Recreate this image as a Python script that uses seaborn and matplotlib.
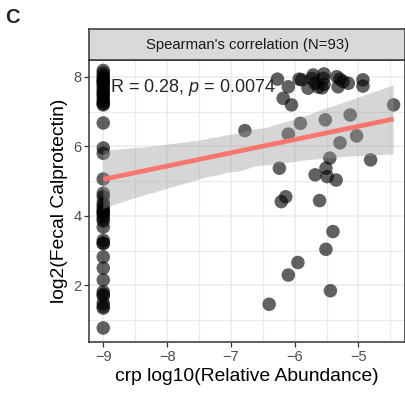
import numpy as np
import pandas as pd
import matplotlib
matplotlib.use("Agg")
import matplotlib.pyplot as plt
import seaborn as sns
from matplotlib.ticker import MultipleLocator

# ---------------- data ----------------
DETECTION_FLOOR = -9.0  # crp log10 abundance assigned to non-detected samples

# samples at the detection floor: log2(fecal calprotectin)
floor_calprotectin = [8.18, 8.10, 8.03, 7.96, 7.90, 7.87, 7.84, 7.78, 7.71, 7.64, 7.57,
                      7.52, 7.48, 7.40, 7.33, 7.26, 7.22, 7.19,
                      6.67, 5.95, 5.80, 5.06, 4.65, 4.55, 4.38, 4.30, 4.22,
                      4.15, 4.10, 4.08, 4.00, 3.92, 3.85, 3.68, 3.30, 3.22,
                      3.20, 2.82, 2.50, 2.16, 1.82, 1.75, 1.70, 1.50, 1.40, 1.35, 0.78]

# samples with detected crp
detected_crp = [-6.27, -6.10, -5.93, -5.89, -5.79, -5.73, -5.68, -5.63, -5.55, -5.54,
                -5.57, -5.34, -5.29, -5.24, -5.32, -5.16, -4.93, -4.93, -5.71, -5.54,
                -6.18, -6.05, -4.45, -5.13, -5.52, -5.91, -6.78, -6.10, -5.03, -5.29,
                -5.45, -4.81, -6.24, -5.51, -5.68, -5.49, -5.35, -6.14, -6.21, -5.61,
                -5.40, -5.51, -5.95, -6.10, -5.44, -6.40]
detected_calprotectin = [7.93, 7.71, 7.93, 7.91, 7.67, 7.95, 7.81, 7.70, 7.95, 7.78,
                         7.68, 8.00, 7.93, 7.86, 7.71, 7.81, 7.91, 7.73, 8.05, 8.08,
                         7.38, 7.19, 7.19, 6.90, 6.76, 6.66, 6.45, 6.35, 6.30, 6.10,
                         5.66, 5.61, 5.37, 5.37, 5.18, 5.13, 5.03, 4.55, 4.41, 4.44,
                         3.55, 3.04, 2.66, 2.30, 1.85, 1.46]

strip_title = "Spearman's correlation (N=93)"
stat_label = r"R = 0.28, $\it{p}$ = 0.0074"
x_title = "crp log10(Relative Abundance)"
y_title = "log2(Fecal Calprotectin)"
x_ticks = [-9, -8, -7, -6, -5]
y_ticks = [2, 4, 6, 8]

df = pd.DataFrame({
    "crp": [DETECTION_FLOOR] * len(floor_calprotectin) + detected_crp,
    "calpro": floor_calprotectin + detected_calprotectin,
})

# ---------------- style ----------------
sns.set_style("white")
plt.rcParams["font.family"] = ["Liberation Sans", "DejaVu Sans"]
plt.rcParams["mathtext.fontset"] = "custom"
plt.rcParams["mathtext.rm"] = "Liberation Sans"
plt.rcParams["mathtext.it"] = "Liberation Sans:italic"

W, H = 406, 396
fig = plt.figure(figsize=(W / 100, H / 100), dpi=100)

px_l, px_r, px_t, px_b = 89.3, 405.0, 60.0, 342.0
ax = fig.add_axes([px_l / W, 1 - px_b / H, (px_r - px_l) / W, (px_b - px_t) / H])

sns.scatterplot(data=df, x="crp", y="calpro", color="black", alpha=0.62, s=95,
                edgecolor="none", linewidth=0, ax=ax, zorder=3)
sns.regplot(data=df, x="crp", y="calpro", scatter=False, color="#F8766D",
            truncate=True, seed=3, n_boot=2000, ci=99,
            line_kws=dict(lw=3.4, zorder=6, solid_capstyle="butt"), ax=ax)
band = ax.collections[-1]
band.set_alpha(0.4)
band.set_facecolor((0.6, 0.6, 0.6))
band.set_edgecolor("none")
band.set_zorder(5)

ax.set_xlim(-9.219, -4.271)
ax.set_ylim(0.376, 8.48)
ax.set_xticks(x_ticks)
ax.set_xticklabels([f"\u2212{abs(v)}" for v in x_ticks])
ax.set_yticks(y_ticks)
ax.xaxis.set_minor_locator(MultipleLocator(0.5))
ax.yaxis.set_minor_locator(MultipleLocator(1))
ax.grid(which="major", color="#EBEBEB", lw=1.1, zorder=0)
ax.grid(which="minor", color="#EBEBEB", lw=0.8, zorder=0)
ax.set_axisbelow(True)
ax.tick_params(which="major", direction="out", length=3.5, width=0.9, color="#333333",
               labelsize=10.5, labelcolor="#4D4D4D", pad=2,
               bottom=True, left=True)
ax.tick_params(which="minor", length=0)
for s in ax.spines.values():
    s.set_color("#333333")
    s.set_linewidth(1.1)

ax.set_xlabel(x_title, fontsize=13.9, color="black", labelpad=3)
ax.set_ylabel(y_title, fontsize=13.9, color="black", labelpad=4)

ax.text(-8.9, 7.7, stat_label, fontsize=13, ha="left", va="center", zorder=7)

# facet strip
st_t = 29.3
sax = fig.add_axes([px_l / W, 1 - px_t / H, (px_r - px_l) / W, (px_t - st_t) / H])
sax.set_facecolor("#D9D9D9")
sax.set_xticks([]); sax.set_yticks([])
for s in sax.spines.values():
    s.set_color("#333333")
    s.set_linewidth(1.1)
sax.text(0.5, 0.5, strip_title, fontsize=10.7, ha="center", va="center",
         transform=sax.transAxes, color="#1A1A1A")

fig.text(5 / W, 1 - 17.5 / H, "C", fontsize=14.5, fontweight="bold", ha="left", va="center")

fig.savefig("out.png", dpi=100)
